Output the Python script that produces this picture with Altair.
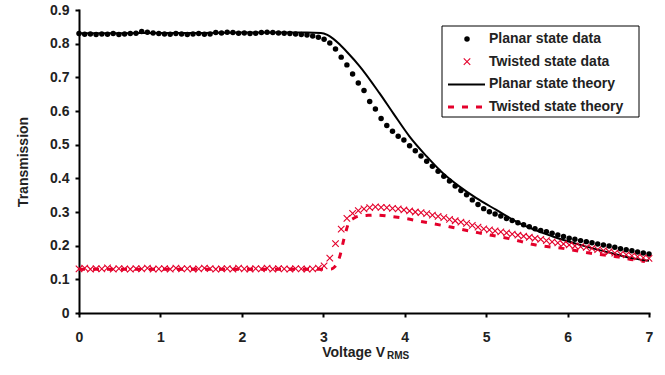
import altair as alt
import pandas as pd

# ---------------- data ----------------
volt = [0.00, 0.07, 0.14, 0.21, 0.28, 0.35, 0.42, 0.49, 0.56, 0.63,
        0.70, 0.77, 0.84, 0.91, 0.98, 1.05, 1.12, 1.19, 1.26, 1.33,
        1.40, 1.47, 1.54, 1.61, 1.68, 1.75, 1.82, 1.89, 1.96, 2.03,
        2.10, 2.17, 2.24, 2.31, 2.38, 2.45, 2.52, 2.59, 2.66, 2.73,
        2.80, 2.87, 2.94, 3.01, 3.08, 3.15, 3.22, 3.29, 3.36, 3.43,
        3.50, 3.57, 3.64, 3.71, 3.78, 3.85, 3.92, 3.99, 4.06, 4.13,
        4.20, 4.27, 4.34, 4.41, 4.48, 4.55, 4.62, 4.69, 4.76, 4.83,
        4.90, 4.97, 5.04, 5.11, 5.18, 5.25, 5.32, 5.39, 5.46, 5.53,
        5.60, 5.67, 5.74, 5.81, 5.88, 5.95, 6.02, 6.09, 6.16, 6.23,
        6.30, 6.37, 6.44, 6.51, 6.58, 6.65, 6.72, 6.79, 6.86, 6.93,
        7.00]

planar_data = [0.830, 0.828, 0.829, 0.827, 0.829, 0.828, 0.830, 0.827, 0.829, 0.830,
               0.831, 0.836, 0.834, 0.832, 0.830, 0.829, 0.828, 0.830, 0.829, 0.827,
               0.829, 0.830, 0.828, 0.829, 0.833, 0.832, 0.834, 0.833, 0.831, 0.832,
               0.830, 0.831, 0.833, 0.834, 0.833, 0.832, 0.831, 0.830, 0.829, 0.827,
               0.826, 0.823, 0.819, 0.813, 0.802, 0.784, 0.760, 0.737, 0.710, 0.683,
               0.661, 0.628, 0.606, 0.578, 0.557, 0.540, 0.525, 0.514, 0.497, 0.482,
               0.466, 0.451, 0.436, 0.421, 0.406, 0.392, 0.377, 0.364, 0.351, 0.336,
               0.322, 0.310, 0.301, 0.294, 0.288, 0.281, 0.275, 0.268, 0.262, 0.256,
               0.250, 0.245, 0.241, 0.237, 0.232, 0.227, 0.222, 0.219, 0.215, 0.212,
               0.209, 0.205, 0.202, 0.199, 0.195, 0.191, 0.188, 0.185, 0.181, 0.178,
               0.175]

twisted_data = [0.131, 0.133, 0.130, 0.132, 0.131, 0.134, 0.130, 0.132, 0.131, 0.130,
                0.132, 0.131, 0.133, 0.130, 0.131, 0.132, 0.130, 0.133, 0.131, 0.132,
                0.130, 0.131, 0.133, 0.132, 0.130, 0.131, 0.132, 0.130, 0.133, 0.131,
                0.130, 0.132, 0.131, 0.133, 0.130, 0.132, 0.131, 0.130, 0.132, 0.131,
                0.130, 0.131, 0.133, 0.140, 0.163, 0.206, 0.249, 0.281, 0.296, 0.304,
                0.309, 0.313, 0.315, 0.314, 0.313, 0.311, 0.309, 0.306, 0.303, 0.300,
                0.298, 0.295, 0.291, 0.287, 0.283, 0.278, 0.274, 0.270, 0.266, 0.260,
                0.255, 0.250, 0.247, 0.244, 0.241, 0.238, 0.234, 0.231, 0.228, 0.225,
                0.222, 0.219, 0.215, 0.211, 0.208, 0.205, 0.202, 0.199, 0.197, 0.195,
                0.192, 0.188, 0.185, 0.182, 0.178, 0.175, 0.173, 0.170, 0.167, 0.164,
                0.162]

planar_theory_x = [0.0, 0.5, 1.0, 1.5, 2.0, 2.5, 2.8, 2.97, 3.05, 3.12, 3.2, 3.3,
                   3.45, 3.69, 3.86, 4.06, 4.27, 4.47, 4.67, 4.88, 5.12, 5.4, 5.81,
                   6.22, 6.5, 6.79, 7.0]
planar_theory_y = [0.831, 0.831, 0.832, 0.832, 0.833, 0.833, 0.833, 0.832, 0.826, 0.815,
                   0.798, 0.773, 0.732, 0.653, 0.593, 0.524, 0.465, 0.415, 0.376, 0.341,
                   0.307, 0.268, 0.228, 0.198, 0.180, 0.163, 0.155]

twisted_theory_x = [0.0, 1.0, 2.0, 3.0, 3.1, 3.14, 3.2, 3.26, 3.32, 3.38, 3.44, 3.55,
                    3.65, 3.85, 4.0, 4.22, 4.55, 4.91, 5.28, 5.61, 5.94, 6.3, 6.63,
                    6.83, 6.95]
twisted_theory_y = [0.130, 0.130, 0.130, 0.130, 0.131, 0.137, 0.166, 0.226, 0.271, 0.282,
                    0.288, 0.290, 0.291, 0.286, 0.281, 0.271, 0.256, 0.238, 0.221, 0.202,
                    0.192, 0.177, 0.166, 0.157, 0.153]

legend_labels = ["Planar state data", "Twisted state data",
                 "Planar state theory", "Twisted state theory"]

RED = "#e4002b"
FONT = "Liberation Sans"
TXT = "#222222"

W, H = 570, 303

pts = pd.DataFrame({"V": volt, "planar": planar_data, "twisted": twisted_data})
pth = pd.DataFrame({"V": planar_theory_x, "T": planar_theory_y})
tth = pd.DataFrame({"V": twisted_theory_x, "T": twisted_theory_y})

xscale = alt.Scale(domain=[0, 7], nice=False, zero=False)
yscale = alt.Scale(domain=[0, 0.9], nice=False)

xax = alt.Axis(values=list(range(0, 8)), title=None, labelPadding=13,
               labelFlush=False)
yax = alt.Axis(values=[0, 0.1, 0.2, 0.3, 0.4, 0.5, 0.6, 0.7, 0.8, 0.9],
               labelExpr="datum.value == 0 ? '0' : format(datum.value, '.1f')",
               title="Transmission", titlePadding=19, labelPadding=6,
               labelFlush=False)

X = alt.X("V:Q", scale=xscale, axis=xax)

tw_theory = alt.Chart(tth).mark_line(color=RED, strokeWidth=3, strokeDash=[6, 8],
                                     interpolate="monotone").encode(
    x=X, y=alt.Y("T:Q", scale=yscale, axis=yax))
pl_theory = alt.Chart(pth).mark_line(color="black", strokeWidth=2,
                                     interpolate="monotone").encode(
    x=X, y=alt.Y("T:Q", scale=yscale, axis=yax))
pl_pts = alt.Chart(pts).mark_point(filled=True, color="black", size=30, opacity=1,
                                   shape="circle").encode(
    x=X, y=alt.Y("planar:Q", scale=yscale, axis=yax))
tw_pts = alt.Chart(pts).mark_point(filled=False, color=RED, size=42, opacity=1,
                                   strokeWidth=1.1,
                                   shape="M-1,-1L1,1M-1,1L1,-1").encode(
    x=X, y=alt.Y("twisted:Q", scale=yscale, axis=yax))

# x-axis title with subscript
one = pd.DataFrame({"a": [0]})
xt1 = alt.Chart(one).mark_text(text="Voltage V", font=FONT, fontWeight="bold",
                               fontSize=14, color=TXT, align="right",
                               baseline="alphabetic").encode(
    x=alt.value(306), y=alt.value(347))
xt2 = alt.Chart(one).mark_text(text="RMS", font=FONT, fontWeight="bold",
                               fontSize=10, color=TXT, align="left",
                               baseline="alphabetic").encode(
    x=alt.value(308), y=alt.value(349))

# legend
leg = pd.DataFrame({"label": legend_labels, "i": [0, 1, 2, 3]})
leg["ty"] = 29 + 22.7 * leg["i"]
box = alt.Chart(one).mark_rect(fill="white", stroke="black", strokeWidth=1).encode(
    x=alt.value(363), x2=alt.value(560), y=alt.value(16), y2=alt.value(107))
leg_text = alt.Chart(leg).mark_text(font=FONT, fontWeight="bold", fontSize=14,
                                    color=TXT, align="left", baseline="middle").encode(
    x=alt.value(410), y=alt.Y("ty:Q", scale=None), text="label:N")
leg_dot = alt.Chart(leg).transform_filter("datum.i == 0").mark_point(
    filled=True, color="black", size=30, opacity=1, shape="circle").encode(
    x=alt.value(388), y=alt.Y("ty:Q", scale=None))
leg_x = alt.Chart(leg).transform_filter("datum.i == 1").mark_point(
    filled=False, color=RED, size=42, opacity=1, strokeWidth=1.1,
    shape="M-1,-1L1,1M-1,1L1,-1").encode(
    x=alt.value(388), y=alt.Y("ty:Q", scale=None))
leg_l1 = alt.Chart(leg).transform_filter("datum.i == 2").mark_rule(
    color="black", strokeWidth=2).encode(
    x=alt.value(369), x2=alt.value(406), y=alt.Y("ty:Q", scale=None))
leg_l2 = alt.Chart(leg).transform_filter("datum.i == 3").mark_rule(
    color=RED, strokeWidth=3, strokeDash=[6, 8]).encode(
    x=alt.value(369), x2=alt.value(406), y=alt.Y("ty:Q", scale=None))

chart = alt.layer(
    tw_theory, pl_theory, pl_pts, tw_pts, xt1, xt2,
    box, leg_text, leg_dot, leg_x, leg_l1, leg_l2
).properties(
    width=W, height=H,
    padding={"left": 79, "top": 10, "right": 16, "bottom": 62},
    autosize=alt.AutoSizeParams(type="none"),
    background="white",
).configure_view(stroke=None).configure_axis(
    grid=False, domainColor="black", domainWidth=2, tickColor="black",
    tickWidth=2, tickSize=4, labelFont=FONT, labelFontWeight="bold",
    labelFontSize=14, labelColor=TXT, titleFont=FONT, titleFontWeight="bold",
    titleFontSize=14, titleColor=TXT, domainCap="square"
)

chart.save("out.html", embed_options={"renderer": "svg", "actions": False})
